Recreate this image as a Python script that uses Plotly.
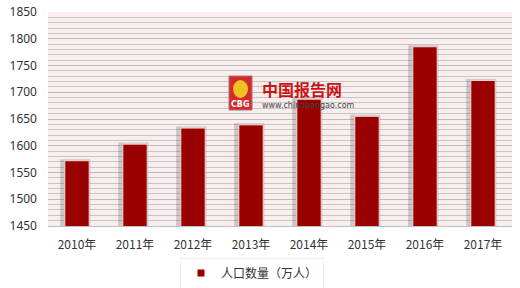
import plotly.graph_objects as go

years = ["2010年", "2011年", "2012年", "2013年", "2014年", "2015年", "2016年", "2017年"]
population = [1572, 1603, 1633, 1639, 1687, 1655, 1785, 1722]
series_name = "人口数量（万人）"
y_ticks = [1450, 1500, 1550, 1600, 1650, 1700, 1750, 1800, 1850]

fig = go.Figure()

# soft shadow behind bars
fig.add_trace(go.Bar(
    x=years, y=[v + 3 for v in population],
    width=0.52, offset=-0.29,
    marker=dict(color="rgba(60,60,60,0.22)", line=dict(width=0)),
    showlegend=False, hoverinfo="skip",
))
fig.add_trace(go.Bar(
    x=years, y=population, name=series_name,
    width=0.42, offset=-0.21,
    marker=dict(color="#990000", line=dict(color="rgba(255,225,225,0.9)", width=1)),
    showlegend=False,
))
# legend entry with a small square swatch
fig.add_trace(go.Scatter(
    x=[None], y=[None], mode="markers", name=series_name,
    marker=dict(symbol="square", size=7, color="#990000"),
))

X0, X1, Y0, Y1 = 48, 512, 12, 226
def px(x):
    return (x - X0) / (X1 - X0)
def py(y):
    return (Y1 - y) / (Y1 - Y0)

shapes = [
    dict(type="rect", xref="paper", yref="paper", x0=px(229), x1=px(252), y0=py(110), y1=py(76),
         fillcolor="#d42a2a", line=dict(color="#b07070", width=1), layer="above"),
    dict(type="circle", xref="paper", yref="paper", x0=px(233), x1=px(248), y0=py(98), y1=py(80),
         fillcolor="#f0c020", line=dict(width=0), layer="above"),
]

annotations = [
    dict(text="<b>中国报告网</b>", xref="paper", yref="paper", x=px(260), y=py(89),
         xanchor="left", yanchor="middle", showarrow=False,
         font=dict(family="Noto Sans CJK SC", size=16, color="#cc1414")),
    dict(text="www.chinabaogao.com", xref="paper", yref="paper", x=px(260), y=py(105),
         xanchor="left", yanchor="middle", showarrow=False,
         font=dict(family="DejaVu Sans", size=8, color="#444444")),
    dict(text="<b>CBG</b>", xref="paper", yref="paper", x=px(240.5), y=py(104),
         xanchor="center", yanchor="middle", showarrow=False,
         font=dict(family="DejaVu Sans", size=8, color="#ffffff")),
]

fig.update_layout(
    width=520, height=288,
    margin=dict(l=X0, r=520 - X1, t=Y0, b=288 - Y1, autoexpand=False),
    paper_bgcolor="#ffffff",
    plot_bgcolor="#f8eeee",
    barmode="overlay",
    shapes=shapes,
    annotations=annotations,
    legend=dict(
        orientation="h", x=252 / 520, y=(288 - 273) / 288, xref="container", yref="container",
        xanchor="center", yanchor="middle",
        bgcolor="#ffffff", bordercolor="#eeeeee", borderwidth=1,
        font=dict(family="Noto Sans CJK SC", size=12, color="#333333"),
    ),
    xaxis=dict(
        showgrid=False, showline=True, linecolor="#bfbfbf", linewidth=1,
        tickfont=dict(family="Noto Sans CJK SC", size=12, color="#333333"),
        ticks="", range=[-0.5, 7.5], ticklabelstandoff=8,
    ),
    yaxis=dict(
        range=[1450, 1850], tickvals=y_ticks, ticktext=[str(t) for t in y_ticks],
        showgrid=True, gridcolor="#bbbbbb", gridwidth=1,
        minor=dict(dtick=10, showgrid=True, gridcolor="#c6c6c6", gridwidth=1),
        zeroline=False, showline=False, ticks="", ticklabelstandoff=10,
        tickfont=dict(family="Noto Sans", size=12, color="#333333"),
    ),
)

fig.write_html("out.html")
